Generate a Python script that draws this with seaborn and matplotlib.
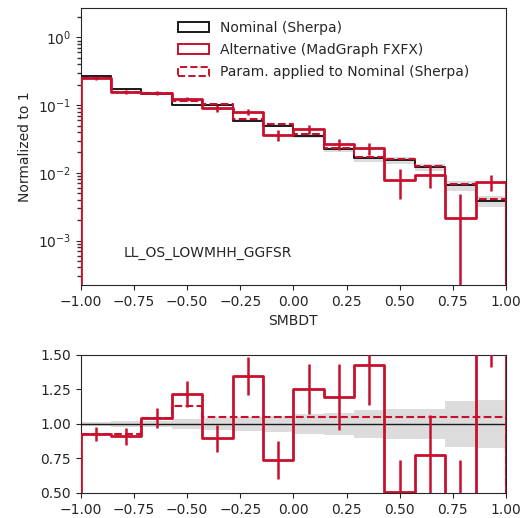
import numpy as np
import matplotlib
matplotlib.use("Agg")
import matplotlib.pyplot as plt
from matplotlib.patches import Patch
from matplotlib.ticker import FormatStrFormatter, LogLocator, NullFormatter
import seaborn as sns

# ---- data ----
bin_edges = [-1.0, -0.8571, -0.7143, -0.5714, -0.4286, -0.2857, -0.1429, 0.0,
             0.1429, 0.2857, 0.4286, 0.5714, 0.7143, 0.8571, 1.0]
nominal = [0.271, 0.172, 0.147, 0.102, 0.100, 0.0593, 0.0495, 0.0353,
           0.0224, 0.0163, 0.0154, 0.0121, 0.00657, 0.00386]
nominal_err = [0.0041, 0.0034, 0.0029, 0.0036, 0.0040, 0.0030, 0.0027, 0.0025,
               0.0018, 0.0016, 0.0017, 0.0013, 0.0011, 0.00068]
alternative = [0.2515, 0.1567, 0.1533, 0.1243, 0.0896, 0.0799, 0.0366, 0.0443,
               0.0268, 0.0233, 0.00776, 0.00941, 0.00214, 0.00736]
alternative_err = [0.0130, 0.0108, 0.0110, 0.0095, 0.0100, 0.0081, 0.0069, 0.0064,
                   0.0053, 0.0047, 0.0036, 0.0035, 0.0027, 0.0019]
param_factor = [0.925, 0.925, 1.04, 1.128, 1.048, 1.048, 1.048, 1.048,
                1.048, 1.048, 1.048, 1.048, 1.048, 1.048]
x_ticks = [-1.00, -0.75, -0.50, -0.25, 0.00, 0.25, 0.50, 0.75, 1.00]
ratio_ticks = [0.50, 0.75, 1.00, 1.25, 1.50]
region_label = "LL_OS_LOWMHH_GGFSR"
legend_labels = ["Nominal (Sherpa)", "Alternative (MadGraph FXFX)",
                 "Param. applied to Nominal (Sherpa)"]

edges = np.array(bin_edges)
centers = 0.5 * (edges[:-1] + edges[1:])
nom = np.array(nominal)
nom_e = np.array(nominal_err)
alt = np.array(alternative)
alt_e = np.array(alternative_err)
par = nom * np.array(param_factor)

RED = "#c8102e"
BLACK = "#1a1a1a"
BAND = "#d6d6d6"

sns.set_style("ticks")
plt.rcParams["font.family"] = ["DejaVu Sans"]
plt.rcParams["xtick.major.size"] = 3.5
plt.rcParams["ytick.major.size"] = 3.5

fig = plt.figure(figsize=(5.23, 5.18), dpi=100)
ax = fig.add_axes([0.1543, 0.4498, 0.8132, 0.5342])
rax = fig.add_axes([0.1543, 0.0483, 0.8132, 0.2664])


def step(axis, vals, color, lw, ls="-", base=0.0, z=3):
    sns.histplot(x=list(centers), weights=list(vals), bins=list(bin_edges),
                 element="step", fill=False, color=color, linewidth=lw,
                 linestyle=ls, ax=axis, zorder=z)
    axis.vlines([edges[0]], base, vals[0], color=color, lw=lw, linestyle=ls, zorder=z)
    axis.vlines([edges[-1]], base, vals[-1], color=color, lw=lw, linestyle=ls, zorder=z)


def band(axis, lo, hi):
    axis.fill_between(edges, np.append(lo, lo[-1]), np.append(hi, hi[-1]),
                      step="post", color=BAND, alpha=0.85, lw=0, zorder=1)


# ---- top panel ----
ax.set_yscale("log")
band(ax, nom - nom_e, nom + nom_e)
step(ax, nom, BLACK, 1.4, base=1e-6, z=3)
step(ax, alt, RED, 2.0, base=1e-6, z=4)
step(ax, par, RED, 1.5, ls="--", base=1e-6, z=5)
ax.errorbar(centers, alt, yerr=alt_e, fmt="none", ecolor=RED, elinewidth=1.8, zorder=4)
ax.set_xlim(-1, 1)
ax.set_ylim(2.2e-4, 2.7)
ax.set_xticks(x_ticks)
ax.yaxis.set_minor_locator(LogLocator(base=10, subs=np.arange(2, 10), numticks=20))
ax.yaxis.set_minor_formatter(NullFormatter())
ax.tick_params(axis="y", which="minor", left=True, length=3.0, width=1.0,
               color="0.2")
ax.set_xlabel("SMBDT")
ax.set_ylabel("Normalized to 1")
for s in ax.spines.values():
    s.set_visible(True)
ax.text(0.1, 0.115, region_label, transform=ax.transAxes, fontsize=10,
        va="center", ha="left")
handles = [Patch(facecolor="none", edgecolor=BLACK, lw=1.4),
           Patch(facecolor="none", edgecolor=RED, lw=1.4),
           Patch(facecolor="none", edgecolor=RED, lw=1.4, linestyle="--")]
ax.legend(handles, legend_labels, loc="upper left", bbox_to_anchor=(0.2, 1.0),
          frameon=False, fontsize=10, handlelength=2.2, labelspacing=0.6)

# ---- ratio panel ----
band(rax, 1 - nom_e / nom, 1 + nom_e / nom)
rax.axhline(1.0, color=BLACK, lw=1.0, zorder=3)
step(rax, alt / nom, RED, 2.0, base=0.0, z=4)
step(rax, par / nom, RED, 1.5, ls="--", base=0.0, z=5)
rax.errorbar(centers, alt / nom, yerr=alt_e / nom, fmt="none", ecolor=RED,
             elinewidth=1.8, zorder=4)
rax.set_xlim(-1, 1)
rax.set_ylim(0.5, 1.5)
rax.set_xticks(x_ticks)
rax.set_yticks(ratio_ticks)
rax.yaxis.set_major_formatter(FormatStrFormatter("%.2f"))
rax.set_xlabel("")
rax.set_ylabel("")
for s in rax.spines.values():
    s.set_visible(True)

fig.savefig("out.png", dpi=100)
